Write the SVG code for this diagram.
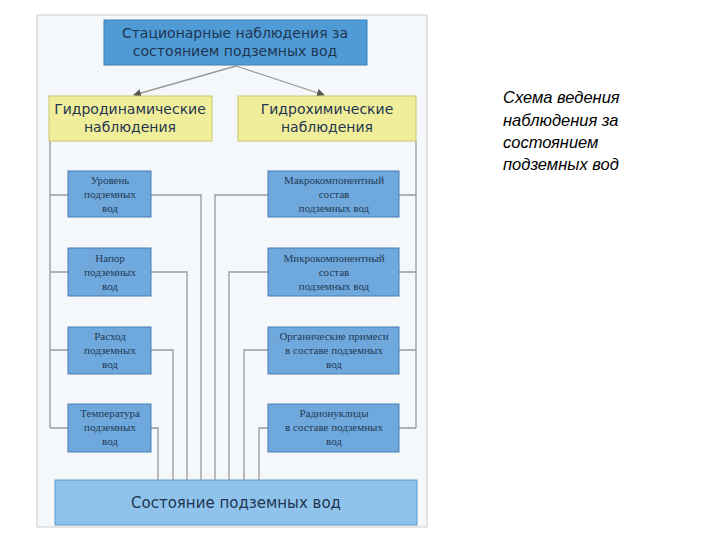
<svg xmlns="http://www.w3.org/2000/svg" width="720" height="540" viewBox="0 0 720 540">
<defs>
<marker id="ah" markerWidth="8" markerHeight="8" refX="7" refY="4" orient="auto" markerUnits="userSpaceOnUse"><path d="M0,0 L8,4 L0,8 z" fill="#555"/></marker>
<style>
.blue{fill:#4f9bd6;stroke:#3d7fb5;stroke-width:1}
.sb{fill:#6fa8dc;stroke:#4a7fb0;stroke-width:1}
.yel{fill:#f0ee9a;stroke:#c9c66a;stroke-width:1}
.lb{fill:#8fc3ec;stroke:#5f9ac8;stroke-width:1}
.t{font-family:"DejaVu Sans",sans-serif;fill:#1f3550;text-anchor:middle}
.s{font-family:"Liberation Serif",serif;font-size:11px;fill:#233a55;text-anchor:middle}
.c{fill:none;stroke:#999;stroke-width:1.3}
</style>
</defs>
<rect x="0" y="0" width="720" height="540" fill="#fff"/>
<rect x="37" y="15" width="390" height="512" fill="#f5f8fb" stroke="#ccc" stroke-width="1"/>
<g id="connectors">
<path class="c" d="M236,66 L134,95" stroke="#555" marker-end="url(#ah)"/>
<path class="c" d="M236,66 L324,95" stroke="#555" marker-end="url(#ah)"/>
<path class="c" d="M50,141 V428 M50,195 H68 M50,272 H68 M50,350 H68 M50,428 H68"/>
<path class="c" d="M416,141 V428 M416,195 H399 M416,272 H399 M416,350 H399 M416,428 H399"/>
<path class="c" d="M151,195 H201 V480 M151,272 H187 V480 M151,350 H173 V480 M151,428 H158 V480"/>
<path class="c" d="M268,195 H215 V480 M268,272 H229 V480 M268,350 H244 V480 M268,428 H259 V480"/>
</g>
<g id="top"><rect class="blue" x="104" y="20" width="263" height="45"/>
<text class="t" font-size="14"><tspan x="235" y="38">Стационарные наблюдения за</tspan><tspan x="235" y="56">состоянием подземных вод</tspan></text></g>
<g id="hydrodyn"><rect class="yel" x="49" y="96" width="163" height="45"/>
<text class="t" font-size="14"><tspan x="130" y="114">Гидродинамические</tspan><tspan x="130" y="132">наблюдения</tspan></text></g>
<g id="hydrochem"><rect class="yel" x="238" y="96" width="178" height="45"/>
<text class="t" font-size="14"><tspan x="327" y="114">Гидрохимические</tspan><tspan x="327" y="132">наблюдения</tspan></text></g>
<g id="l1"><rect class="sb" x="68" y="171" width="83" height="46"/><text class="s"><tspan x="110" y="184">Уровень</tspan><tspan x="110" y="198">подземных</tspan><tspan x="110" y="212">вод</tspan></text></g>
<g id="l2"><rect class="sb" x="68" y="248" width="83" height="48"/><text class="s"><tspan x="110" y="262">Напор</tspan><tspan x="110" y="276">подземных</tspan><tspan x="110" y="290">вод</tspan></text></g>
<g id="l3"><rect class="sb" x="68" y="327" width="83" height="47"/><text class="s"><tspan x="110" y="340">Расход</tspan><tspan x="110" y="354">подземных</tspan><tspan x="110" y="368">вод</tspan></text></g>
<g id="l4"><rect class="sb" x="68" y="404" width="83" height="48"/><text class="s"><tspan x="110" y="417">Температура</tspan><tspan x="110" y="431">подземных</tspan><tspan x="110" y="445">вод</tspan></text></g>
<g id="r1"><rect class="sb" x="268" y="171" width="131" height="46"/><text class="s"><tspan x="334" y="184">Макрокомпонентный</tspan><tspan x="334" y="198">состав</tspan><tspan x="334" y="212">подземных вод</tspan></text></g>
<g id="r2"><rect class="sb" x="268" y="248" width="131" height="48"/><text class="s"><tspan x="334" y="262">Микрокомпонентный</tspan><tspan x="334" y="276">состав</tspan><tspan x="334" y="290">подземных вод</tspan></text></g>
<g id="r3"><rect class="sb" x="268" y="327" width="131" height="47"/><text class="s"><tspan x="334" y="340">Органические примеси</tspan><tspan x="334" y="354">в составе подземных</tspan><tspan x="334" y="368">вод</tspan></text></g>
<g id="r4"><rect class="sb" x="268" y="404" width="131" height="48"/><text class="s"><tspan x="334" y="417">Радионуклиды</tspan><tspan x="334" y="431">в составе подземных</tspan><tspan x="334" y="445">вод</tspan></text></g>
<g id="bottom"><rect class="lb" x="55" y="480" width="362" height="45"/>
<text class="t" font-size="15" x="236" y="508">Состояние подземных вод</text></g>
<text font-family="Liberation Sans,sans-serif" font-style="italic" font-size="16.5" fill="#000"><tspan x="503" y="103">Схема ведения</tspan><tspan x="503" y="126">наблюдения за</tspan><tspan x="503" y="148">состоянием</tspan><tspan x="503" y="170">подземных вод</tspan></text>
</svg>
